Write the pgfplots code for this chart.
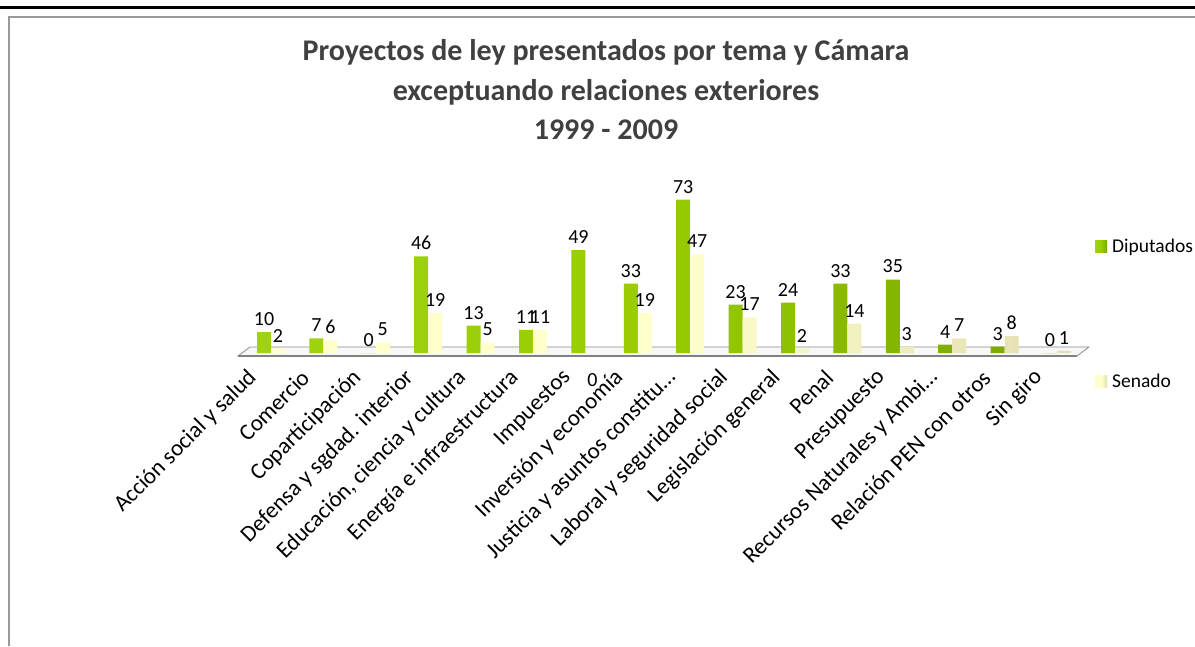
\documentclass[border=0pt]{standalone}
\usepackage{pgfplots}
\pgfplotsset{compat=1.18}
\usepackage{fontspec}
\setmainfont{Carlito}
\definecolor{dip}{RGB}{153,204,0}
\definecolor{dipdark}{RGB}{120,165,0}
\definecolor{diplight}{RGB}{160,210,20}
\definecolor{sen}{RGB}{255,255,204}
\definecolor{sendark}{RGB}{225,222,176}
\definecolor{titlec}{RGB}{64,64,64}
\begin{document}
\begin{tikzpicture}[x=1pt,y=1pt]
\useasboundingbox (0,0) rectangle (1195,646);
\fill[white] (0,0) rectangle (1195,646);
\draw[line width=3pt] (0,638) -- (1195,638);
\draw[black!40,line width=1.5pt] (9,0) -- (9,629) -- (1195,629);
\filldraw[fill=black!3, draw=black!45, line width=0.8pt] (238,290) -- (1077,290) -- (1089,299) -- (250,299) -- cycle;
\draw[black!50, line width=1.6pt] (238,290) -- (1077,290);
\node[anchor=base, font=\fontsize{30}{36}\selectfont\bfseries, text=titlec] at (606,585) {Proyectos de ley presentados por tema y Cámara};
\node[anchor=base, font=\fontsize{30}{36}\selectfont\bfseries, text=titlec] at (606,545) {exceptuando relaciones exteriores};
\node[anchor=base, font=\fontsize{30}{36}\selectfont\bfseries, text=titlec] at (606,506) {1999 - 2009};
\begin{axis}[
  at={(244.8pt,293pt)}, anchor=south west, scale only axis,
  width=838.4pt, height=168pt,
  xmin=-0.5, xmax=15.5, ymin=0, ymax=80,
  axis x line*=bottom, axis y line=none,
  x axis line style={draw=none},
  xtick style={draw=none}, major tick length=0pt,
  ytick=\empty,
  ybar=0pt, bar width=14pt,
  xtick={0,...,15},
  xticklabels={Acción social y salud, Comercio, Coparticipación, Defensa y sgdad. interior, {Educación, ciencia y cultura}, Energía e infraestructura, Impuestos, Inversión y economía, Justicia y asuntos constitu…, Laboral y seguridad social, Legislación general, Penal, Presupuesto, Recursos Naturales y Ambi…, Relación PEN con otros, Sin giro},
  xticklabel style={font=\fontsize{23}{27}\selectfont, xshift=-18pt, yshift=-21pt, rotate=45, anchor=east, inner sep=0pt},
  nodes near coords,
  every node near coord/.append style={font=\fontsize{20}{24}\selectfont, text=black, yshift=3pt},
  /pgf/number format/assume math mode=true,
  legend style={at={(axis description cs:1.0141,0.6845)}, anchor=north west, draw=none, fill=none, font=\fontsize{19.5}{23}\selectfont, row sep=118pt, inner sep=0pt, nodes={inner sep=1pt}},
  legend cell align=left,
  clip=false,
]
\addplot[draw=none, left color=diplight, right color=dipdark, middle color=dip,
  legend image code/.code={\fill[dip] (0pt,-6pt) rectangle (12pt,6pt);}]
  coordinates {(0,10)(1,7)(2,0)(3,46)(4,13)(5,11)(6,49)(7,33)(8,73)(9,23)(10,24)(11,33)(12,35)(13,4)(14,3)(15,0)};
\addlegendentry{\hspace{4pt}Diputados}
\addplot[draw=none, left color=sen, right color=sendark, middle color=sen,
  legend image code/.code={\fill[sen] (0pt,-6pt) rectangle (12pt,6pt);},
  coordinate style/.condition={y==0}{yshift=-40pt}]
  coordinates {(0,2)(1,6)(2,5)(3,19)(4,5)(5,11)(6,0)(7,19)(8,47)(9,17)(10,2)(11,14)(12,3)(13,7)(14,8)(15,1)};
\addlegendentry{\hspace{4pt}Senado}
\end{axis}
\end{tikzpicture}
\end{document}
